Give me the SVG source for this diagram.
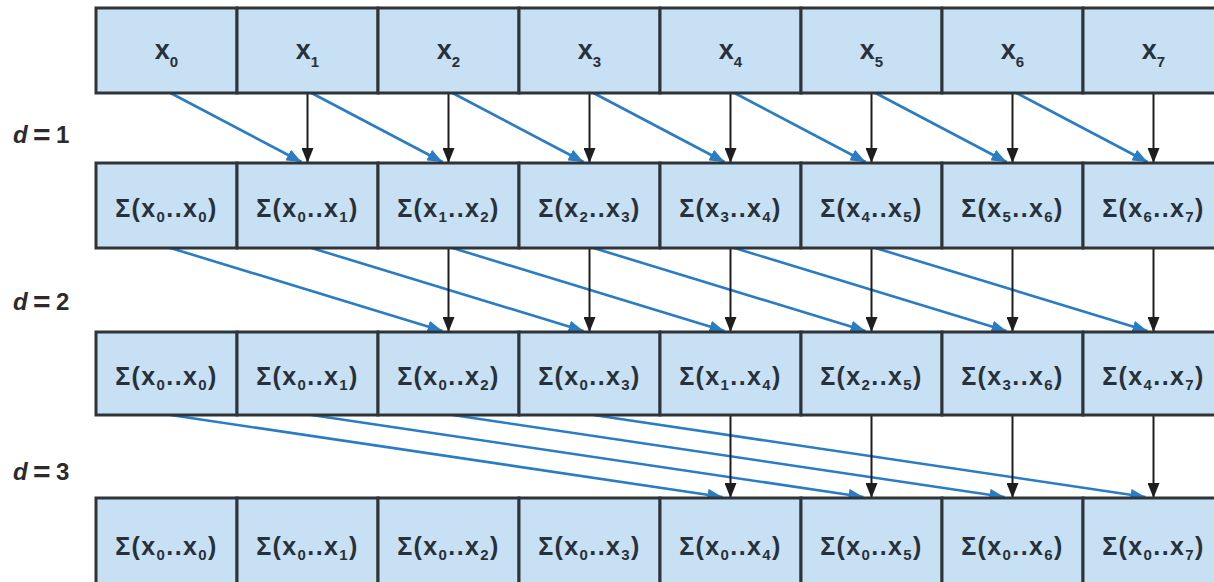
<svg xmlns="http://www.w3.org/2000/svg" width="1214" height="582" viewBox="0 0 1214 582">
<defs>
<style>
.box{fill:#c7e0f4;stroke:#2f3439;stroke-width:3}
.t{font-family:"Liberation Sans",Arial,sans-serif;font-size:25px;font-weight:bold;fill:#28313b;text-anchor:middle;letter-spacing:1.4px}
.tx{font-family:"Liberation Sans",Arial,sans-serif;font-size:27px;font-weight:bold;fill:#28313b;text-anchor:middle}
.s{font-size:15px}
.lbl{font-family:"Liberation Sans",Arial,sans-serif;font-size:24px;font-weight:bold;fill:#2b2b2b}
.lbl .eq{font-size:30px}
.blue{stroke:#2a7cc4;stroke-width:2.6;fill:none;marker-end:url(#ab)}
.blk{stroke:#1e1e1e;stroke-width:2;fill:none;marker-end:url(#ak)}
</style>
<marker id="ab" markerUnits="userSpaceOnUse" markerWidth="16" markerHeight="12" refX="15" refY="6" orient="auto"><path d="M0,0 L15,6 L0,12 z" fill="#2a7cc4"/></marker>
<marker id="ak" markerUnits="userSpaceOnUse" markerWidth="16" markerHeight="12" refX="15" refY="6" orient="auto"><path d="M0,0 L15,6 L0,12 z" fill="#1e1e1e"/></marker>
</defs>
<rect width="1214" height="582" fill="#ffffff"/>

<g id="labels">
<text class="lbl" y="143"><tspan x="13" font-style="italic">d</tspan><tspan class="eq" x="33" dy="2">=</tspan><tspan x="56" dy="-2">1</tspan></text>
<text class="lbl" y="310"><tspan x="13" font-style="italic">d</tspan><tspan class="eq" x="33" dy="2">=</tspan><tspan x="56" dy="-2">2</tspan></text>
<text class="lbl" y="480"><tspan x="13" font-style="italic">d</tspan><tspan class="eq" x="33" dy="2">=</tspan><tspan x="56" dy="-2">3</tspan></text>
</g>

<g id="connectors">
<g id="d1">
<line class="blue" x1="170.5" y1="93" x2="301.5" y2="162"/>
<line class="blue" x1="311.5" y1="93" x2="442.5" y2="162"/>
<line class="blue" x1="452.5" y1="93" x2="583.5" y2="162"/>
<line class="blue" x1="593.5" y1="93" x2="724.5" y2="162"/>
<line class="blue" x1="734.5" y1="93" x2="865.5" y2="162"/>
<line class="blue" x1="875.5" y1="93" x2="1006.5" y2="162"/>
<line class="blue" x1="1016.5" y1="93" x2="1147.5" y2="162"/>
<line class="blk" x1="307.5" y1="94" x2="307.5" y2="163"/>
<line class="blk" x1="448.5" y1="94" x2="448.5" y2="163"/>
<line class="blk" x1="589.5" y1="94" x2="589.5" y2="163"/>
<line class="blk" x1="730.5" y1="94" x2="730.5" y2="163"/>
<line class="blk" x1="871.5" y1="94" x2="871.5" y2="163"/>
<line class="blk" x1="1012.5" y1="94" x2="1012.5" y2="163"/>
<line class="blk" x1="1153.5" y1="94" x2="1153.5" y2="163"/>
</g>
<g id="d2">
<line class="blue" x1="170.5" y1="248" x2="442.5" y2="331"/>
<line class="blue" x1="311.5" y1="248" x2="583.5" y2="331"/>
<line class="blue" x1="452.5" y1="248" x2="724.5" y2="331"/>
<line class="blue" x1="593.5" y1="248" x2="865.5" y2="331"/>
<line class="blue" x1="734.5" y1="248" x2="1006.5" y2="331"/>
<line class="blue" x1="875.5" y1="248" x2="1147.5" y2="331"/>
<line class="blk" x1="448.5" y1="249" x2="448.5" y2="332"/>
<line class="blk" x1="589.5" y1="249" x2="589.5" y2="332"/>
<line class="blk" x1="730.5" y1="249" x2="730.5" y2="332"/>
<line class="blk" x1="871.5" y1="249" x2="871.5" y2="332"/>
<line class="blk" x1="1012.5" y1="249" x2="1012.5" y2="332"/>
<line class="blk" x1="1153.5" y1="249" x2="1153.5" y2="332"/>
</g>
<g id="d3">
<line class="blue" x1="170.5" y1="415" x2="722.5" y2="497"/>
<line class="blue" x1="311.5" y1="415" x2="863.5" y2="497"/>
<line class="blue" x1="452.5" y1="415" x2="1004.5" y2="497"/>
<line class="blue" x1="593.5" y1="415" x2="1145.5" y2="497"/>
<line class="blk" x1="730.5" y1="416" x2="730.5" y2="498"/>
<line class="blk" x1="871.5" y1="416" x2="871.5" y2="498"/>
<line class="blk" x1="1012.5" y1="416" x2="1012.5" y2="498"/>
<line class="blk" x1="1153.5" y1="416" x2="1153.5" y2="498"/>
</g>
</g>

<g id="row0">
<g id="r0c0"><rect class="box" x="96" y="8" width="141" height="85"/><text class="tx" x="166.5" y="59">x<tspan class="s" dy="8">0</tspan></text></g>
<g id="r0c1"><rect class="box" x="237" y="8" width="141" height="85"/><text class="tx" x="307.5" y="59">x<tspan class="s" dy="8">1</tspan></text></g>
<g id="r0c2"><rect class="box" x="378" y="8" width="141" height="85"/><text class="tx" x="448.5" y="59">x<tspan class="s" dy="8">2</tspan></text></g>
<g id="r0c3"><rect class="box" x="519" y="8" width="141" height="85"/><text class="tx" x="589.5" y="59">x<tspan class="s" dy="8">3</tspan></text></g>
<g id="r0c4"><rect class="box" x="660" y="8" width="141" height="85"/><text class="tx" x="730.5" y="59">x<tspan class="s" dy="8">4</tspan></text></g>
<g id="r0c5"><rect class="box" x="801" y="8" width="141" height="85"/><text class="tx" x="871.5" y="59">x<tspan class="s" dy="8">5</tspan></text></g>
<g id="r0c6"><rect class="box" x="942" y="8" width="141" height="85"/><text class="tx" x="1012.5" y="59">x<tspan class="s" dy="8">6</tspan></text></g>
<g id="r0c7"><rect class="box" x="1083" y="8" width="141" height="85"/><text class="tx" x="1153.5" y="59">x<tspan class="s" dy="8">7</tspan></text></g>
</g>

<g id="row1">
<g id="r1c0"><rect class="box" x="96" y="163" width="141" height="85"/><text class="t" x="166.5" y="217">Σ(x<tspan class="s" dy="5">0</tspan><tspan dy="-5">..x</tspan><tspan class="s" dy="5">0</tspan><tspan dy="-5">)</tspan></text></g>
<g id="r1c1"><rect class="box" x="237" y="163" width="141" height="85"/><text class="t" x="307.5" y="217">Σ(x<tspan class="s" dy="5">0</tspan><tspan dy="-5">..x</tspan><tspan class="s" dy="5">1</tspan><tspan dy="-5">)</tspan></text></g>
<g id="r1c2"><rect class="box" x="378" y="163" width="141" height="85"/><text class="t" x="448.5" y="217">Σ(x<tspan class="s" dy="5">1</tspan><tspan dy="-5">..x</tspan><tspan class="s" dy="5">2</tspan><tspan dy="-5">)</tspan></text></g>
<g id="r1c3"><rect class="box" x="519" y="163" width="141" height="85"/><text class="t" x="589.5" y="217">Σ(x<tspan class="s" dy="5">2</tspan><tspan dy="-5">..x</tspan><tspan class="s" dy="5">3</tspan><tspan dy="-5">)</tspan></text></g>
<g id="r1c4"><rect class="box" x="660" y="163" width="141" height="85"/><text class="t" x="730.5" y="217">Σ(x<tspan class="s" dy="5">3</tspan><tspan dy="-5">..x</tspan><tspan class="s" dy="5">4</tspan><tspan dy="-5">)</tspan></text></g>
<g id="r1c5"><rect class="box" x="801" y="163" width="141" height="85"/><text class="t" x="871.5" y="217">Σ(x<tspan class="s" dy="5">4</tspan><tspan dy="-5">..x</tspan><tspan class="s" dy="5">5</tspan><tspan dy="-5">)</tspan></text></g>
<g id="r1c6"><rect class="box" x="942" y="163" width="141" height="85"/><text class="t" x="1012.5" y="217">Σ(x<tspan class="s" dy="5">5</tspan><tspan dy="-5">..x</tspan><tspan class="s" dy="5">6</tspan><tspan dy="-5">)</tspan></text></g>
<g id="r1c7"><rect class="box" x="1083" y="163" width="141" height="85"/><text class="t" x="1153.5" y="217">Σ(x<tspan class="s" dy="5">6</tspan><tspan dy="-5">..x</tspan><tspan class="s" dy="5">7</tspan><tspan dy="-5">)</tspan></text></g>
</g>

<g id="row2">
<g id="r2c0"><rect class="box" x="96" y="332" width="141" height="83"/><text class="t" x="166.5" y="385">Σ(x<tspan class="s" dy="5">0</tspan><tspan dy="-5">..x</tspan><tspan class="s" dy="5">0</tspan><tspan dy="-5">)</tspan></text></g>
<g id="r2c1"><rect class="box" x="237" y="332" width="141" height="83"/><text class="t" x="307.5" y="385">Σ(x<tspan class="s" dy="5">0</tspan><tspan dy="-5">..x</tspan><tspan class="s" dy="5">1</tspan><tspan dy="-5">)</tspan></text></g>
<g id="r2c2"><rect class="box" x="378" y="332" width="141" height="83"/><text class="t" x="448.5" y="385">Σ(x<tspan class="s" dy="5">0</tspan><tspan dy="-5">..x</tspan><tspan class="s" dy="5">2</tspan><tspan dy="-5">)</tspan></text></g>
<g id="r2c3"><rect class="box" x="519" y="332" width="141" height="83"/><text class="t" x="589.5" y="385">Σ(x<tspan class="s" dy="5">0</tspan><tspan dy="-5">..x</tspan><tspan class="s" dy="5">3</tspan><tspan dy="-5">)</tspan></text></g>
<g id="r2c4"><rect class="box" x="660" y="332" width="141" height="83"/><text class="t" x="730.5" y="385">Σ(x<tspan class="s" dy="5">1</tspan><tspan dy="-5">..x</tspan><tspan class="s" dy="5">4</tspan><tspan dy="-5">)</tspan></text></g>
<g id="r2c5"><rect class="box" x="801" y="332" width="141" height="83"/><text class="t" x="871.5" y="385">Σ(x<tspan class="s" dy="5">2</tspan><tspan dy="-5">..x</tspan><tspan class="s" dy="5">5</tspan><tspan dy="-5">)</tspan></text></g>
<g id="r2c6"><rect class="box" x="942" y="332" width="141" height="83"/><text class="t" x="1012.5" y="385">Σ(x<tspan class="s" dy="5">3</tspan><tspan dy="-5">..x</tspan><tspan class="s" dy="5">6</tspan><tspan dy="-5">)</tspan></text></g>
<g id="r2c7"><rect class="box" x="1083" y="332" width="141" height="83"/><text class="t" x="1153.5" y="385">Σ(x<tspan class="s" dy="5">4</tspan><tspan dy="-5">..x</tspan><tspan class="s" dy="5">7</tspan><tspan dy="-5">)</tspan></text></g>
</g>

<g id="row3">
<g id="r3c0"><rect class="box" x="96" y="498" width="141" height="92"/><text class="t" x="166.5" y="555">Σ(x<tspan class="s" dy="5">0</tspan><tspan dy="-5">..x</tspan><tspan class="s" dy="5">0</tspan><tspan dy="-5">)</tspan></text></g>
<g id="r3c1"><rect class="box" x="237" y="498" width="141" height="92"/><text class="t" x="307.5" y="555">Σ(x<tspan class="s" dy="5">0</tspan><tspan dy="-5">..x</tspan><tspan class="s" dy="5">1</tspan><tspan dy="-5">)</tspan></text></g>
<g id="r3c2"><rect class="box" x="378" y="498" width="141" height="92"/><text class="t" x="448.5" y="555">Σ(x<tspan class="s" dy="5">0</tspan><tspan dy="-5">..x</tspan><tspan class="s" dy="5">2</tspan><tspan dy="-5">)</tspan></text></g>
<g id="r3c3"><rect class="box" x="519" y="498" width="141" height="92"/><text class="t" x="589.5" y="555">Σ(x<tspan class="s" dy="5">0</tspan><tspan dy="-5">..x</tspan><tspan class="s" dy="5">3</tspan><tspan dy="-5">)</tspan></text></g>
<g id="r3c4"><rect class="box" x="660" y="498" width="141" height="92"/><text class="t" x="730.5" y="555">Σ(x<tspan class="s" dy="5">0</tspan><tspan dy="-5">..x</tspan><tspan class="s" dy="5">4</tspan><tspan dy="-5">)</tspan></text></g>
<g id="r3c5"><rect class="box" x="801" y="498" width="141" height="92"/><text class="t" x="871.5" y="555">Σ(x<tspan class="s" dy="5">0</tspan><tspan dy="-5">..x</tspan><tspan class="s" dy="5">5</tspan><tspan dy="-5">)</tspan></text></g>
<g id="r3c6"><rect class="box" x="942" y="498" width="141" height="92"/><text class="t" x="1012.5" y="555">Σ(x<tspan class="s" dy="5">0</tspan><tspan dy="-5">..x</tspan><tspan class="s" dy="5">6</tspan><tspan dy="-5">)</tspan></text></g>
<g id="r3c7"><rect class="box" x="1083" y="498" width="141" height="92"/><text class="t" x="1153.5" y="555">Σ(x<tspan class="s" dy="5">0</tspan><tspan dy="-5">..x</tspan><tspan class="s" dy="5">7</tspan><tspan dy="-5">)</tspan></text></g>
</g>
</svg>
